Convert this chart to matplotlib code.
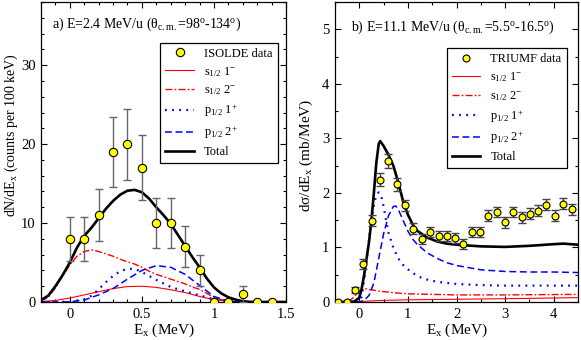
import matplotlib
matplotlib.use("Agg")
import matplotlib.pyplot as plt
from matplotlib.ticker import MultipleLocator, FuncFormatter

plt.rcParams["font.family"] = ["Liberation Serif", "DejaVu Serif"]
plt.rcParams["mathtext.fontset"] = "custom"
plt.rcParams["mathtext.rm"] = "Liberation Serif"
plt.rcParams["mathtext.it"] = "Liberation Serif:italic"
plt.rcParams["mathtext.bf"] = "Liberation Serif:bold"

# ---- panel a) ISOLDE, E=2.4 MeV/u ----
isolde_x = [0.0, 0.1, 0.2, 0.3, 0.4, 0.5, 0.6, 0.7, 0.8, 0.9, 1.0, 1.1, 1.2, 1.3, 1.4]
isolde_y = [8, 8, 11, 19, 20, 17, 10, 10, 7, 4, 0, 0, 1, 0, 0]
isolde_err = [2.8, 2.8, 3.3, 4.4, 4.5, 4.1, 3.2, 3.2, 2.6, 2.0, 0, 0, 1.0, 0, 0]

a_total_x = [-0.2, -0.15, -0.1, -0.05, 0.0, 0.05, 0.1, 0.15, 0.2, 0.25, 0.3, 0.35, 0.4, 0.45,
             0.5, 0.55, 0.6, 0.65, 0.7, 0.75, 0.8, 0.85, 0.9, 0.95, 1.0, 1.05, 1.1, 1.15,
             1.2, 1.25, 1.3, 1.5]
a_total_y = [0.25, 0.8, 2.0, 3.4, 5.0, 6.9, 8.4, 9.4, 10.6, 11.8, 12.8, 13.6, 14.1, 14.2,
             13.9, 13.1, 12.0, 11.0, 9.9, 8.5, 7.1, 5.7, 4.4, 3.0, 1.85, 1.1, 0.6, 0.3,
             0.1, 0.02, 0.0, 0.0]

a_s1_x = [-0.2, -0.1, 0.0, 0.1, 0.2, 0.3, 0.4, 0.5, 0.6, 0.7, 0.8, 0.9, 1.0, 1.1, 1.2, 1.5]
a_s1_y = [0.05, 0.2, 0.5, 0.9, 1.3, 1.7, 1.95, 2.0, 1.85, 1.55, 1.2, 0.7, 0.3, 0.08, 0.0, 0.0]

a_s2_x = [-0.2, -0.15, -0.1, -0.05, 0.0, 0.05, 0.1, 0.15, 0.2, 0.25, 0.3, 0.35, 0.4, 0.45,
          0.5, 0.55, 0.6, 0.65, 0.7, 0.75, 0.8, 0.85, 0.9, 0.95, 1.0, 1.05, 1.1, 1.15, 1.2, 1.5]
a_s2_y = [0.1, 0.6, 1.8, 3.3, 4.7, 5.8, 6.4, 6.6, 6.4, 6.1, 5.8, 5.4, 5.1, 4.8,
          4.4, 3.9, 3.5, 3.2, 2.9, 2.6, 2.3, 1.9, 1.6, 1.1, 0.6, 0.3, 0.1, 0.03, 0.0, 0.0]

a_p1_x = [-0.2, -0.1, 0.0, 0.1, 0.15, 0.2, 0.25, 0.3, 0.35, 0.4, 0.45, 0.5, 0.55, 0.6,
          0.7, 0.8, 0.9, 1.0, 1.1, 1.2, 1.5]
a_p1_y = [0.0, 0.0, 0.05, 0.35, 0.8, 1.6, 2.5, 3.3, 3.9, 4.2, 4.2, 3.8, 3.3, 2.8,
          1.9, 1.35, 0.85, 0.35, 0.08, 0.0, 0.0]

a_p2_x = [-0.2, -0.1, 0.0, 0.1, 0.2, 0.3, 0.4, 0.5, 0.6, 0.7, 0.8, 0.9, 1.0, 1.1, 1.2, 1.5]
a_p2_y = [0.0, 0.0, 0.02, 0.25, 0.9, 1.7, 2.9, 4.0, 4.6, 4.4, 3.5, 2.1, 0.7, 0.1, 0.0, 0.0]

# ---- panel b) TRIUMF, E=11.1 MeV/u ----
triumf_x = [-0.43, -0.26, -0.09, 0.08, 0.26, 0.43, 0.60, 0.77, 0.94, 1.11, 1.28, 1.45,
            1.63, 1.80, 1.97, 2.14, 2.31, 2.48, 2.65, 2.83, 3.00, 3.17, 3.34, 3.51,
            3.68, 3.85, 4.02, 4.19, 4.37]
triumf_y = [0.0, 0.0, 0.22, 0.70, 1.49, 2.24, 2.58, 2.16, 1.77, 1.34, 1.16, 1.28,
            1.21, 1.21, 1.18, 1.06, 1.28, 1.28, 1.58, 1.65, 1.46, 1.65, 1.55, 1.62,
            1.67, 1.78, 1.58, 1.80, 1.70]
triumf_err = [0.02, 0.02, 0.06, 0.09, 0.10, 0.12, 0.13, 0.12, 0.10, 0.10, 0.09, 0.09,
              0.09, 0.09, 0.09, 0.09, 0.09, 0.09, 0.10, 0.10, 0.10, 0.10, 0.10, 0.10,
              0.10, 0.10, 0.10, 0.10, 0.10]

b_total_x = [-0.5, -0.2, -0.1, 0.0, 0.05, 0.1, 0.15, 0.2, 0.25, 0.3, 0.35, 0.4, 0.43,
             0.5, 0.6, 0.7, 0.8, 0.9, 1.0, 1.1, 1.2, 1.4, 1.6, 1.8, 2.0, 2.5, 3.0,
             3.5, 4.0, 4.2, 4.5]
b_total_y = [0.0, 0.0, 0.01, 0.08, 0.25, 0.5, 0.8, 1.1, 1.5, 2.0, 2.55, 2.9, 2.95,
             2.86, 2.7, 2.5, 2.2, 1.85, 1.6, 1.42, 1.30, 1.18, 1.11, 1.07, 1.05, 1.02,
             1.01, 1.03, 1.06, 1.07, 1.05]

b_s1_x = [-0.5, -0.1, 0.0, 0.5, 1.0, 2.0, 3.0, 4.5]
b_s1_y = [0.0, 0.0, 0.01, 0.03, 0.04, 0.05, 0.06, 0.08]

b_s2_x = [-0.5, -0.3, -0.2, -0.1, 0.0, 0.1, 0.2, 0.4, 0.7, 1.0, 2.0, 3.0, 4.5]
b_s2_y = [0.0, 0.0, 0.02, 0.1, 0.2, 0.25, 0.23, 0.2, 0.17, 0.15, 0.13, 0.13, 0.14]

b_p1_x = [-0.5, 0.0, 0.05, 0.1, 0.15, 0.2, 0.25, 0.3, 0.35, 0.4, 0.45, 0.5, 0.55, 0.6,
          0.7, 0.8, 0.9, 1.0, 1.2, 1.4, 1.6, 2.0, 2.5, 3.0, 4.0, 4.5]
b_p1_y = [0.0, 0.0, 0.1, 0.4, 0.76, 1.15, 1.5, 1.78, 1.96, 2.01, 1.95, 1.75, 1.5, 1.27,
          1.0, 0.8, 0.68, 0.6, 0.47, 0.41, 0.37, 0.33, 0.31, 0.3, 0.3, 0.3]

b_p2_x = [-0.5, 0.0, 0.1, 0.2, 0.3, 0.4, 0.5, 0.6, 0.7, 0.75, 0.8, 0.9, 1.0, 1.1, 1.2,
          1.4, 1.6, 1.8, 2.0, 2.5, 3.0, 3.5, 4.0, 4.5]
b_p2_y = [0.0, 0.0, 0.03, 0.12, 0.35, 0.8, 1.25, 1.58, 1.75, 1.76, 1.7, 1.5, 1.3, 1.15,
          1.05, 0.9, 0.8, 0.72, 0.67, 0.59, 0.56, 0.55, 0.55, 0.54]

LABELS = ["s$_{1/2}$ 1$^{-}$", "s$_{1/2}$ 2$^{-}$", "p$_{1/2}$ 1$^{+}$", "p$_{1/2}$ 2$^{+}$", "Total"]
STYLES = [
    dict(color="red", lw=0.8, ls="-"),
    dict(color="red", lw=1.0, ls=(0, (5, 1.6, 1.2, 1.6))),
    dict(color="blue", lw=1.6, ls=(0, (0.8, 2.4))),
    dict(color="blue", lw=1.1, ls=(0, (4.5, 2.4))),
    dict(color="black", lw=1.9, ls="-"),
]


def style_axes(ax, xmaj, xmin, ymaj, ymin):
    ax.xaxis.set_major_locator(MultipleLocator(xmaj))
    ax.xaxis.set_minor_locator(MultipleLocator(xmin))
    ax.yaxis.set_major_locator(MultipleLocator(ymaj))
    ax.yaxis.set_minor_locator(MultipleLocator(ymin))
    fmt = FuncFormatter(lambda v, p: f"{v:g}")
    ax.xaxis.set_major_formatter(fmt)
    ax.yaxis.set_major_formatter(fmt)
    ax.tick_params(which="both", direction="in", top=True, right=True, labelsize=10.5, width=0.8)
    ax.tick_params(which="major", length=4.5, pad=4)
    ax.tick_params(which="minor", length=2.5)
    for s in ax.spines.values():
        s.set_linewidth(0.9)


def draw_panel(ax, curves, data_x, data_y, data_err, data_label, ms, cap, ecolor, leg_anchor):
    handles = []
    for (cx, cy), st, lab in zip(curves, STYLES, LABELS):
        line, = ax.plot(cx, cy, label=lab, zorder=2, **st)
        handles.append(line)
    ax.errorbar(data_x, data_y, yerr=data_err, fmt="none", ecolor=ecolor, elinewidth=1.0,
                capsize=cap, capthick=1.0, zorder=3)
    pts, = ax.plot(data_x, data_y, "o", ms=ms, mfc="yellow", mec="black", mew=0.8,
                   ls="none", zorder=4, label=data_label)
    leg = ax.legend([pts] + handles, [data_label] + LABELS, loc="upper right",
                    bbox_to_anchor=leg_anchor, borderaxespad=0, fontsize=9, numpoints=1,
                    handlelength=2.3, handletextpad=0.8, labelspacing=0.4, borderpad=0.4,
                    fancybox=False, framealpha=1, edgecolor="black")
    leg.get_frame().set_linewidth(0.9)


fig = plt.figure(figsize=(5.81, 3.40), dpi=100)
ax1 = fig.add_axes([41 / 581, 38 / 340, 245 / 581, 300 / 340])
ax2 = fig.add_axes([335 / 581, 38 / 340, 243 / 581, 300 / 340])

draw_panel(ax1, [(a_s1_x, a_s1_y), (a_s2_x, a_s2_y), (a_p1_x, a_p1_y), (a_p2_x, a_p2_y),
                 (a_total_x, a_total_y)],
           isolde_x, isolde_y, isolde_err, "ISOLDE data", 6.0, 3.0, "#666666", (0.966, 0.864))
ax1.set_xlim(-0.2, 1.5)
ax1.set_ylim(0, 38)
style_axes(ax1, 0.5, 0.1, 10, 2)
ax1.set_xlabel("E$_{\\rm x}$ (MeV)", fontsize=11, labelpad=1)
ax1.set_ylabel("dN/dE$_{\\rm x}$ (counts per 100 keV)", fontsize=10)
ax1.yaxis.set_label_coords(-0.085, 0.555)
ax1.text(0.045, 0.925, "a) E=2.4 MeV/u (θ$_{\\rm c.m.}$=98$^{\\rm o}$-134$^{\\rm o}$)",
         transform=ax1.transAxes, fontsize=10, va="center", ha="left")

draw_panel(ax2, [(b_s1_x, b_s1_y), (b_s2_x, b_s2_y), (b_p1_x, b_p1_y), (b_p2_x, b_p2_y),
                 (b_total_x, b_total_y)],
           triumf_x, triumf_y, triumf_err, "TRIUMF data", 5.0, 2.6, "#444444", (0.953, 0.846))
ax2.set_xlim(-0.5, 4.5)
ax2.set_ylim(0, 5.5)
style_axes(ax2, 1, 0.5, 1, 0.5)
ax2.set_xlabel("E$_{\\rm x}$ (MeV)", fontsize=11, labelpad=1)
ax2.set_ylabel("dσ/dE$_{\\rm x}$ (mb/MeV)", fontsize=11)
ax2.yaxis.set_label_coords(-0.082, 0.49)
ax2.text(0.066, 0.915, "b) E=11.1 MeV/u (θ$_{\\rm c.m.}$=5.5$^{\\rm o}$-16.5$^{\\rm o}$)",
         transform=ax2.transAxes, fontsize=10, va="center", ha="left")

fig.savefig("out.png", dpi=100)
